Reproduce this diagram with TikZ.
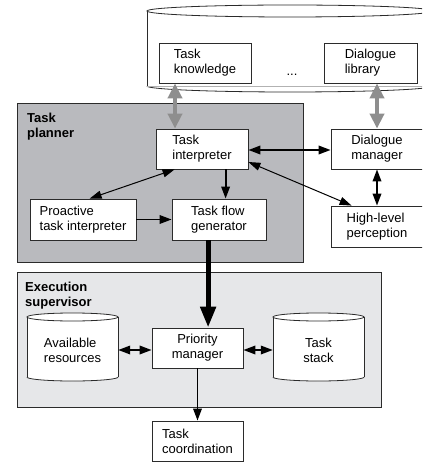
\documentclass[tikz,border=0pt]{standalone}
\usepackage{fontspec}
\setmainfont{Liberation Sans}
\usetikzlibrary{arrows.meta,calc}
\definecolor{planfill}{HTML}{B9BABE}
\definecolor{execfill}{HTML}{E6E7E9}
\definecolor{edgecol}{HTML}{2B2B2B}
\definecolor{garrow}{HTML}{8E8E8E}
\newcommand\drawcyl[5]{%
  \path[fill=white] (#1-#2,#3) -- (#1-#2,#4) -- plot[domain=180:360,samples=50] ({#1+#2*cos(\x)},{#4-#5*sin(\x)}) -- (#1+#2,#3) -- cycle;
  \draw[cylline] (#1-#2,#3) -- (#1-#2,#4);
  \draw[cylline] (#1+#2,#3) -- (#1+#2,#4);
  \draw[cylline] plot[domain=180:360,samples=50] ({#1+#2*cos(\x)},{#4-#5*sin(\x)});
  \draw[cylline,fill=white] (#1,#3) ellipse [x radius=#2pt, y radius=#5pt];
}
\begin{document}
\begin{tikzpicture}[x=1pt,y=-1pt,
  txt/.style={font=\fontsize{13}{15}\selectfont},
  box/.style={txt,draw=edgecol,fill=white,line width=0.8pt,inner sep=0pt,align=left},
  cylline/.style={draw=edgecol,line width=0.8pt},
  cyltext/.style={txt,inner sep=0pt,minimum width=91pt,minimum height=40pt},
  region/.style={draw=edgecol,line width=0.8pt},
  title/.style={font=\bfseries\fontsize{13}{15}\selectfont,align=left,inner sep=0pt,anchor=north west},
  dbl/.style={line width=1.8pt,{Triangle[length=12pt,width=8.5pt]}-{Triangle[length=12pt,width=8.5pt]}},
  dbld/.style={line width=1pt,{Triangle[length=12pt,width=8pt]}-{Triangle[length=12pt,width=8pt]}},
  sgl/.style={line width=1.8pt,-{Triangle[length=12pt,width=8.5pt]}},
  garr/.style={draw=garrow,line width=4.5pt,{Triangle[length=15pt,width=14pt]}-{Triangle[length=15pt,width=14pt]}},
  thick arr/.style={line width=5pt,-{Triangle[length=21pt,width=15pt]}}
]
\clip (0,0) rectangle (422,462);
\fill[white] (0,0) rectangle (422,462);

% regions
\draw[region,fill=planfill] (17,103) rectangle (303,262);
\draw[region,fill=execfill] (17,272) rectangle (381,407);
\node[title] (tp) at (27,113) {Task\\planner};
\node[title] (es) at (25,282) {Execution\\supervisor};

% knowledge cylinder
\drawcyl{290}{143}{11}{86}{6}
\draw[gray!60,line width=0.6pt] (147,86) -- (433,86);

\node[box,minimum width=92pt,minimum height=40pt] (tk) at (205,63) {Task\\knowledge};
\node[box,minimum width=93pt,minimum height=40pt] (dl) at (370.5,63) {Dialogue\\library};
\node[txt,inner sep=0pt] (dots) at (292,75) {...};

% planner boxes
\node[box,minimum width=92pt,minimum height=40pt] (ti) at (202,149) {Task\\interpreter};
\node[box,minimum width=92pt,minimum height=40pt] (dm) at (377,149) {Dialogue\\manager};
\node[box,minimum width=106pt,minimum height=41pt] (pti) at (83,219.5) {Proactive\\task interpreter};
\node[box,minimum width=94pt,minimum height=41pt] (tfg) at (219,219.5) {Task flow\\generator};
\node[box,minimum width=92pt,minimum height=41pt] (hlp) at (377,226.5) {High-level\\perception};

% execution supervisor
\drawcyl{72.5}{45.5}{317}{377}{4}
\drawcyl{318.5}{45.5}{317}{377}{4}
\node[cyltext,align=left] (ar) at (72.5,350) {Available\\resources};
\node[cyltext,align=center] (ts) at (318.5,350) {Task\\stack};
\node[box,align=center,minimum width=91pt,minimum height=40pt] (pm) at (197.5,348) {Priority\\manager};
\node[box,minimum width=91pt,minimum height=40pt] (tc) at (197.5,441) {Task\\coordination};

% connectors
\draw[garr] ($(tk.south)+(-30,0)$) -- ($(ti.north)+(-27,0)$);
\draw[garr] ($(dl.south)+(6.5,0)$) -- (dm.north);
\draw[dbl] ($(ti.east)+(0,1)$) -- ($(dm.west)+(0,1)$);
\draw[dbld] ($(ti.east)+(0,13)$) -- ($(hlp.north west)+(21,0)$);
\draw[dbl] (dm.south) -- (hlp.north);
\draw[dbld] ($(ti.south west)+(19,0)$) -- ($(pti.north west)+(60,0)$);
\draw[sgl] ($(ti.south west)+(70,0)$) -- ($(tfg.north west)+(54,0)$);
\draw[sgl] (pti.east) -- (tfg.west);
\draw[thick arr] ($(tfg.south west)+(36.5,0)$) -- ($(pm.north west)+(56.5,0)$);
\draw[dbl] (ar.east) -- (ar.east -| pm.west);
\draw[dbl] (ts.west) -- (ts.west -| pm.east);
\draw[sgl] (pm.south) -- (tc.north);
\end{tikzpicture}
\end{document}
